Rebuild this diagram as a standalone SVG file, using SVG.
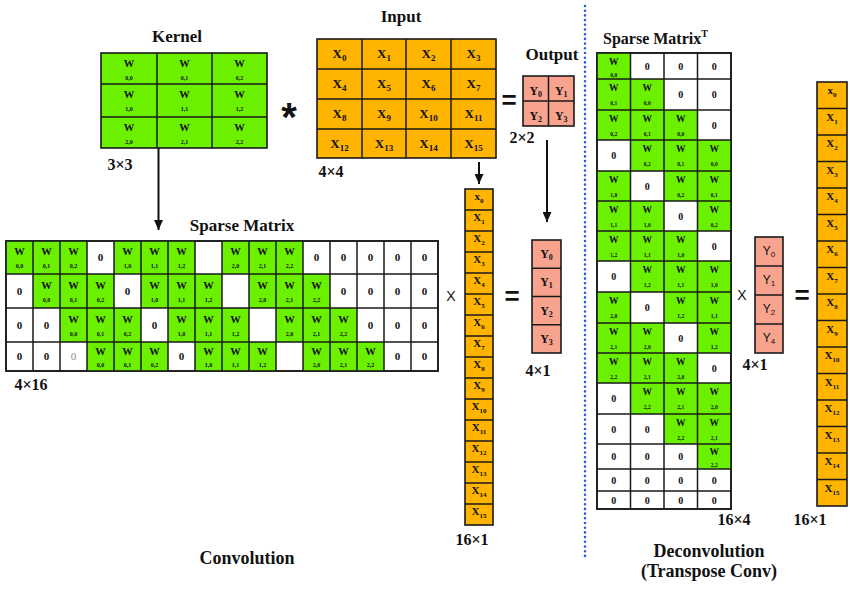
<svg xmlns="http://www.w3.org/2000/svg" width="850" height="592" viewBox="0 0 850 592">
<defs>
<marker id="ah" viewBox="0 0 10 9" refX="10" refY="4.5" markerWidth="10" markerHeight="9" orient="auto" markerUnits="userSpaceOnUse"><path d="M0,0 L10,4.5 L0,9 z" fill="#111"/></marker>
</defs>
<style>
.bg{stroke:#1a1a1a;stroke-width:1.6}
.gr{fill:#6BF000}
.wh{fill:#fff}
.or{fill:#FFB400}
.sa{fill:#F8A38D}
.ln{stroke:#1a1a1a;stroke-width:1.5;fill:none}
.t{font-family:"Liberation Serif","DejaVu Serif",serif;font-weight:bold;fill:#111;text-anchor:middle}
.st-start{text-anchor:start}
.ttl{font-size:17px}
.dim{font-size:16px}
.wk{font-size:10.5px}
.sk{font-size:6px}
.z{font-size:11px}
.wt{font-size:9.5px}
.st{font-size:5.5px}
.zt{font-size:10px}
.xi{font-size:13px}
.xv{font-size:11px}
.yv{font-size:12px}
.cap{font-size:18px}
.lt{font-weight:normal;fill:#888}
.op{font-family:"Liberation Sans","DejaVu Sans",sans-serif;fill:#111;text-anchor:middle}
.ys{font-family:"Liberation Sans","DejaVu Sans",sans-serif;font-size:12px;fill:#111;text-anchor:middle}
</style>
<rect width="850" height="592" fill="#fff"/>

<g id="kernel">
<rect class="gr bg" x="101" y="53" width="166" height="95"/>
<path class="ln" d="M157,53V148M212,53V148M101,84H267M101,117H267"/>
<text class="t wk" x="129" y="67">W</text><text class="t sk" x="129" y="80">0,0</text>
<text class="t wk" x="184.5" y="67">W</text><text class="t sk" x="184.5" y="80">0,1</text>
<text class="t wk" x="239.5" y="67">W</text><text class="t sk" x="239.5" y="80">0,2</text>
<text class="t wk" x="129" y="98">W</text><text class="t sk" x="129" y="111">1,0</text>
<text class="t wk" x="184.5" y="98">W</text><text class="t sk" x="184.5" y="111">1,1</text>
<text class="t wk" x="239.5" y="98">W</text><text class="t sk" x="239.5" y="111">1,2</text>
<text class="t wk" x="129" y="131">W</text><text class="t sk" x="129" y="144">2,0</text>
<text class="t wk" x="184.5" y="131">W</text><text class="t sk" x="184.5" y="144">2,1</text>
<text class="t wk" x="239.5" y="131">W</text><text class="t sk" x="239.5" y="144">2,2</text>
<text class="t ttl" x="177" y="42">Kernel</text>
<text class="t dim" x="120" y="170">3×3</text>
</g>

<g id="input">
<rect class="or bg" x="317" y="39" width="179" height="119"/>
<path class="ln" d="M362,39V158M406,39V158M451,39V158M317,69H496M317,99H496M317,129H496"/>
<text class="t xi" x="339.5" y="58">X<tspan font-size="9" dy="3">0</tspan></text>
<text class="t xi" x="384" y="58">X<tspan font-size="9" dy="3">1</tspan></text>
<text class="t xi" x="428.5" y="58">X<tspan font-size="9" dy="3">2</tspan></text>
<text class="t xi" x="473.5" y="58">X<tspan font-size="9" dy="3">3</tspan></text>
<text class="t xi" x="339.5" y="88">X<tspan font-size="9" dy="3">4</tspan></text>
<text class="t xi" x="384" y="88">X<tspan font-size="9" dy="3">5</tspan></text>
<text class="t xi" x="428.5" y="88">X<tspan font-size="9" dy="3">6</tspan></text>
<text class="t xi" x="473.5" y="88">X<tspan font-size="9" dy="3">7</tspan></text>
<text class="t xi" x="339.5" y="118">X<tspan font-size="9" dy="3">8</tspan></text>
<text class="t xi" x="384" y="118">X<tspan font-size="9" dy="3">9</tspan></text>
<text class="t xi" x="428.5" y="118">X<tspan font-size="9" dy="3">10</tspan></text>
<text class="t xi" x="473.5" y="118">X<tspan font-size="9" dy="3">11</tspan></text>
<text class="t xi" x="339.5" y="148">X<tspan font-size="9" dy="3">12</tspan></text>
<text class="t xi" x="384" y="148">X<tspan font-size="9" dy="3">13</tspan></text>
<text class="t xi" x="428.5" y="148">X<tspan font-size="9" dy="3">14</tspan></text>
<text class="t xi" x="473.5" y="148">X<tspan font-size="9" dy="3">15</tspan></text>
<text class="t ttl" x="401" y="22">Input</text>
<text class="t dim" x="331" y="177">4×4</text>
</g>

<g id="output">
<rect class="sa bg" x="523" y="76" width="51" height="50"/>
<path class="ln" d="M548.5,76V126M523,101H574"/>
<text class="t yv" x="535.75" y="95">Y<tspan font-size="8" dy="2">0</tspan></text>
<text class="t yv" x="561.25" y="95">Y<tspan font-size="8" dy="2">1</tspan></text>
<text class="t yv" x="535.75" y="120">Y<tspan font-size="8" dy="2">2</tspan></text>
<text class="t yv" x="561.25" y="120">Y<tspan font-size="8" dy="2">3</tspan></text>
<text class="t ttl" x="552" y="60">Output</text>
<text class="t dim" x="522" y="143">2×2</text>
</g>

<g id="operators">
<text class="op" x="289" y="131" font-size="40" font-weight="bold">*</text>
<text class="op" x="509" y="109" font-size="26" font-weight="bold">=</text>
<text class="op" x="451" y="301" font-size="14">X</text>
<text class="op" x="512" y="305" font-size="26" font-weight="bold">=</text>
<text class="op" x="742" y="300" font-size="14">X</text>
<text class="op" x="802" y="304" font-size="26" font-weight="bold">=</text>
</g>

<g id="sparse-matrix">
<rect class="wh bg" x="6" y="241" width="432" height="130"/>
<rect class="gr" x="6" y="241" width="81" height="33"/><rect class="gr" x="114" y="241" width="81" height="33"/><rect class="gr" x="222" y="241" width="81" height="33"/>
<rect class="gr" x="33" y="274" width="81" height="34"/><rect class="gr" x="141" y="274" width="81" height="34"/><rect class="gr" x="249" y="274" width="81" height="34"/>
<rect class="gr" x="60" y="308" width="81" height="34"/><rect class="gr" x="168" y="308" width="81" height="34"/><rect class="gr" x="276" y="308" width="81" height="34"/>
<rect class="gr" x="87" y="342" width="81" height="29"/><rect class="gr" x="195" y="342" width="81" height="29"/><rect class="gr" x="303" y="342" width="81" height="29"/>
<path class="ln" d="M33,241V371M60,241V371M87,241V371M114,241V371M141,241V371M168,241V371M195,241V371M222,241V371M249,241V371M276,241V371M303,241V371M330,241V371M357,241V371M384,241V371M411,241V371M6,274H438M6,308H438M6,342H438"/>
<rect class="bg" x="6" y="241" width="432" height="130" fill="none"/>
<!-- row 0 -->
<text class="t wk" x="19.5" y="255">W</text><text class="t sk" x="19.5" y="268">0,0</text>
<text class="t wk" x="46.5" y="255">W</text><text class="t sk" x="46.5" y="268">0,1</text>
<text class="t wk" x="73.5" y="255">W</text><text class="t sk" x="73.5" y="268">0,2</text>
<text class="t z" x="100.5" y="261">0</text>
<text class="t wk" x="127.5" y="255">W</text><text class="t sk" x="127.5" y="268">1,0</text>
<text class="t wk" x="154.5" y="255">W</text><text class="t sk" x="154.5" y="268">1,1</text>
<text class="t wk" x="181.5" y="255">W</text><text class="t sk" x="181.5" y="268">1,2</text>
<text class="t wk" x="235.5" y="255">W</text><text class="t sk" x="235.5" y="268">2,0</text>
<text class="t wk" x="262.5" y="255">W</text><text class="t sk" x="262.5" y="268">2,1</text>
<text class="t wk" x="289.5" y="255">W</text><text class="t sk" x="289.5" y="268">2,2</text>
<text class="t z" x="316.5" y="261">0</text><text class="t z" x="343.5" y="261">0</text><text class="t z" x="370.5" y="261">0</text><text class="t z" x="397.5" y="261">0</text><text class="t z" x="424.5" y="261">0</text>
<!-- row 1 -->
<text class="t z" x="19.5" y="295">0</text>
<text class="t wk" x="46.5" y="289">W</text><text class="t sk" x="46.5" y="302">0,0</text>
<text class="t wk" x="73.5" y="289">W</text><text class="t sk" x="73.5" y="302">0,1</text>
<text class="t wk" x="100.5" y="289">W</text><text class="t sk" x="100.5" y="302">0,2</text>
<text class="t z" x="127.5" y="295">0</text>
<text class="t wk" x="154.5" y="289">W</text><text class="t sk" x="154.5" y="302">1,0</text>
<text class="t wk" x="181.5" y="289">W</text><text class="t sk" x="181.5" y="302">1,1</text>
<text class="t wk" x="208.5" y="289">W</text><text class="t sk" x="208.5" y="302">1,2</text>
<text class="t wk" x="262.5" y="289">W</text><text class="t sk" x="262.5" y="302">2,0</text>
<text class="t wk" x="289.5" y="289">W</text><text class="t sk" x="289.5" y="302">2,1</text>
<text class="t wk" x="316.5" y="289">W</text><text class="t sk" x="316.5" y="302">2,2</text>
<text class="t z" x="343.5" y="295">0</text><text class="t z" x="370.5" y="295">0</text><text class="t z" x="397.5" y="295">0</text><text class="t z" x="424.5" y="295">0</text>
<!-- row 2 -->
<text class="t z" x="19.5" y="329">0</text><text class="t z" x="46.5" y="329">0</text>
<text class="t wk" x="73.5" y="323">W</text><text class="t sk" x="73.5" y="336">0,0</text>
<text class="t wk" x="100.5" y="323">W</text><text class="t sk" x="100.5" y="336">0,1</text>
<text class="t wk" x="127.5" y="323">W</text><text class="t sk" x="127.5" y="336">0,2</text>
<text class="t z" x="154.5" y="329">0</text>
<text class="t wk" x="181.5" y="323">W</text><text class="t sk" x="181.5" y="336">1,0</text>
<text class="t wk" x="208.5" y="323">W</text><text class="t sk" x="208.5" y="336">1,1</text>
<text class="t wk" x="235.5" y="323">W</text><text class="t sk" x="235.5" y="336">1,2</text>
<text class="t wk" x="289.5" y="323">W</text><text class="t sk" x="289.5" y="336">2,0</text>
<text class="t wk" x="316.5" y="323">W</text><text class="t sk" x="316.5" y="336">2,1</text>
<text class="t wk" x="343.5" y="323">W</text><text class="t sk" x="343.5" y="336">2,2</text>
<text class="t z" x="370.5" y="329">0</text><text class="t z" x="397.5" y="329">0</text><text class="t z" x="424.5" y="329">0</text>
<!-- row 3 -->
<text class="t z" x="19.5" y="360">0</text><text class="t z" x="46.5" y="360">0</text><text class="t z lt" x="73.5" y="360">0</text>
<text class="t wk" x="100.5" y="355">W</text><text class="t sk" x="100.5" y="367">0,0</text>
<text class="t wk" x="127.5" y="355">W</text><text class="t sk" x="127.5" y="367">0,1</text>
<text class="t wk" x="154.5" y="355">W</text><text class="t sk" x="154.5" y="367">0,2</text>
<text class="t z" x="181.5" y="360">0</text>
<text class="t wk" x="208.5" y="355">W</text><text class="t sk" x="208.5" y="367">1,0</text>
<text class="t wk" x="235.5" y="355">W</text><text class="t sk" x="235.5" y="367">1,1</text>
<text class="t wk" x="262.5" y="355">W</text><text class="t sk" x="262.5" y="367">1,2</text>
<text class="t wk" x="316.5" y="355">W</text><text class="t sk" x="316.5" y="367">2,0</text>
<text class="t wk" x="343.5" y="355">W</text><text class="t sk" x="343.5" y="367">2,1</text>
<text class="t wk" x="370.5" y="355">W</text><text class="t sk" x="370.5" y="367">2,2</text>
<text class="t z" x="397.5" y="360">0</text><text class="t z" x="424.5" y="360">0</text>
<text class="t ttl" x="242" y="231">Sparse Matrix</text>
<text class="t dim" x="31" y="390">4×16</text>
</g>

<g id="input-vector">
<rect class="or bg" x="465" y="189" width="28" height="336"/>
<path class="ln" d="M465,210H493M465,231H493M465,252H493M465,273H493M465,294H493M465,315H493M465,336H493M465,357H493M465,378H493M465,399H493M465,420H493M465,441H493M465,462H493M465,483H493M465,504H493"/>
<text class="t xv" x="479" y="200">x<tspan font-size="7" dy="3">0</tspan></text>
<text class="t xv" x="479" y="221">X<tspan font-size="7" dy="3">1</tspan></text>
<text class="t xv" x="479" y="242">X<tspan font-size="7" dy="3">2</tspan></text>
<text class="t xv" x="479" y="263">X<tspan font-size="7" dy="3">3</tspan></text>
<text class="t xv" x="479" y="284">X<tspan font-size="7" dy="3">4</tspan></text>
<text class="t xv" x="479" y="305">X<tspan font-size="7" dy="3">5</tspan></text>
<text class="t xv" x="479" y="326">X<tspan font-size="7" dy="3">6</tspan></text>
<text class="t xv" x="479" y="347">X<tspan font-size="7" dy="3">7</tspan></text>
<text class="t xv" x="479" y="368">X<tspan font-size="7" dy="3">8</tspan></text>
<text class="t xv" x="479" y="389">X<tspan font-size="7" dy="3">9</tspan></text>
<text class="t xv" x="479" y="410">X<tspan font-size="7" dy="3">10</tspan></text>
<text class="t xv" x="479" y="431">X<tspan font-size="7" dy="3">11</tspan></text>
<text class="t xv" x="479" y="452">X<tspan font-size="7" dy="3">12</tspan></text>
<text class="t xv" x="479" y="473">X<tspan font-size="7" dy="3">13</tspan></text>
<text class="t xv" x="479" y="494">X<tspan font-size="7" dy="3">14</tspan></text>
<text class="t xv" x="479" y="515">X<tspan font-size="7" dy="3">15</tspan></text>
<text class="t dim" x="472" y="545">16×1</text>
</g>

<g id="output-vector">
<rect class="sa bg" x="532" y="240" width="29" height="113"/>
<path class="ln" d="M532,268.25H561M532,296.5H561M532,324.75H561"/>
<text class="t yv" x="546.5" y="258">Y<tspan font-size="8" dy="2">0</tspan></text>
<text class="t yv" x="546.5" y="286.25">Y<tspan font-size="8" dy="2">1</tspan></text>
<text class="t yv" x="546.5" y="314.5">Y<tspan font-size="8" dy="2">2</tspan></text>
<text class="t yv" x="546.5" y="342.75">Y<tspan font-size="8" dy="2">3</tspan></text>
<text class="t dim" x="538" y="376">4×1</text>
</g>

<g id="sparse-matrix-t">
<rect class="wh bg" x="597" y="53" width="134" height="456"/>
<rect class="gr" x="597" y="53" width="33.5" height="26"/>
<rect class="gr" x="597" y="79" width="67" height="31"/>
<rect class="gr" x="597" y="110" width="100.5" height="30"/>
<rect class="gr" x="630.5" y="140" width="100.5" height="31"/>
<rect class="gr" x="597" y="171" width="33.5" height="30"/><rect class="gr" x="664" y="171" width="67" height="30"/>
<rect class="gr" x="597" y="201" width="67" height="30"/><rect class="gr" x="697.5" y="201" width="33.5" height="30"/>
<rect class="gr" x="597" y="231" width="100.5" height="30"/>
<rect class="gr" x="630.5" y="261" width="100.5" height="31"/>
<rect class="gr" x="597" y="292" width="33.5" height="31"/><rect class="gr" x="664" y="292" width="67" height="31"/>
<rect class="gr" x="597" y="323" width="67" height="30"/><rect class="gr" x="697.5" y="323" width="33.5" height="30"/>
<rect class="gr" x="597" y="353" width="100.5" height="30"/>
<rect class="gr" x="630.5" y="383" width="100.5" height="31"/>
<rect class="gr" x="664" y="414" width="67" height="30"/>
<rect class="gr" x="697.5" y="444" width="33.5" height="25"/>
<path class="ln" d="M630.5,53V509M664,53V509M697.5,53V509M597,79H731M597,110H731M597,140H731M597,171H731M597,201H731M597,231H731M597,261H731M597,292H731M597,323H731M597,353H731M597,383H731M597,414H731M597,444H731M597,469H731M597,491H731"/>
<rect class="bg" x="597" y="53" width="134" height="456" fill="none"/>
<!-- r0 -->
<text class="t wt" x="613.75" y="65">W</text><text class="t st" x="613.75" y="77">0,0</text>
<text class="t zt" x="647.25" y="70">0</text><text class="t zt" x="680.75" y="70">0</text><text class="t zt" x="714.25" y="70">0</text>
<!-- r1 -->
<text class="t wt" x="613.75" y="91">W</text><text class="t st" x="613.75" y="105">0,1</text>
<text class="t wt" x="647.25" y="91">W</text><text class="t st" x="647.25" y="105">0,0</text>
<text class="t zt" x="680.75" y="98">0</text><text class="t zt" x="714.25" y="98">0</text>
<!-- r2 -->
<text class="t wt" x="613.75" y="122">W</text><text class="t st" x="613.75" y="136">0,2</text>
<text class="t wt" x="647.25" y="122">W</text><text class="t st" x="647.25" y="136">0,1</text>
<text class="t wt" x="680.75" y="122">W</text><text class="t st" x="680.75" y="136">0,0</text>
<text class="t zt" x="714.25" y="129">0</text>
<!-- r3 -->
<text class="t zt" x="613.75" y="159">0</text>
<text class="t wt" x="647.25" y="152">W</text><text class="t st" x="647.25" y="166">0,2</text>
<text class="t wt" x="680.75" y="152">W</text><text class="t st" x="680.75" y="166">0,1</text>
<text class="t wt" x="714.25" y="152">W</text><text class="t st" x="714.25" y="166">0,0</text>
<!-- r4 -->
<text class="t wt" x="613.75" y="183">W</text><text class="t st" x="613.75" y="197">1,0</text>
<text class="t zt" x="647.25" y="190">0</text>
<text class="t wt" x="680.75" y="183">W</text><text class="t st" x="680.75" y="197">0,2</text>
<text class="t wt" x="714.25" y="183">W</text><text class="t st" x="714.25" y="197">0,1</text>
<!-- r5 -->
<text class="t wt" x="613.75" y="213">W</text><text class="t st" x="613.75" y="227">1,1</text>
<text class="t wt" x="647.25" y="213">W</text><text class="t st" x="647.25" y="227">1,0</text>
<text class="t zt" x="680.75" y="220">0</text>
<text class="t wt" x="714.25" y="213">W</text><text class="t st" x="714.25" y="227">0,2</text>
<!-- r6 -->
<text class="t wt" x="613.75" y="243">W</text><text class="t st" x="613.75" y="257">1,2</text>
<text class="t wt" x="647.25" y="243">W</text><text class="t st" x="647.25" y="257">1,1</text>
<text class="t wt" x="680.75" y="243">W</text><text class="t st" x="680.75" y="257">1,0</text>
<text class="t zt" x="714.25" y="250">0</text>
<!-- r7 -->
<text class="t zt" x="613.75" y="280">0</text>
<text class="t wt" x="647.25" y="273">W</text><text class="t st" x="647.25" y="287">1,2</text>
<text class="t wt" x="680.75" y="273">W</text><text class="t st" x="680.75" y="287">1,1</text>
<text class="t wt" x="714.25" y="273">W</text><text class="t st" x="714.25" y="287">1,0</text>
<!-- r8 -->
<text class="t wt" x="613.75" y="304">W</text><text class="t st" x="613.75" y="318">2,0</text>
<text class="t zt" x="647.25" y="311">0</text>
<text class="t wt" x="680.75" y="304">W</text><text class="t st" x="680.75" y="318">1,2</text>
<text class="t wt" x="714.25" y="304">W</text><text class="t st" x="714.25" y="318">1,1</text>
<!-- r9 -->
<text class="t wt" x="613.75" y="335">W</text><text class="t st" x="613.75" y="349">2,1</text>
<text class="t wt" x="647.25" y="335">W</text><text class="t st" x="647.25" y="349">2,0</text>
<text class="t zt" x="680.75" y="342">0</text>
<text class="t wt" x="714.25" y="335">W</text><text class="t st" x="714.25" y="349">1,2</text>
<!-- r10 -->
<text class="t wt" x="613.75" y="365">W</text><text class="t st" x="613.75" y="379">2,2</text>
<text class="t wt" x="647.25" y="365">W</text><text class="t st" x="647.25" y="379">2,1</text>
<text class="t wt" x="680.75" y="365">W</text><text class="t st" x="680.75" y="379">2,0</text>
<text class="t zt" x="714.25" y="372">0</text>
<!-- r11 -->
<text class="t zt" x="613.75" y="402">0</text>
<text class="t wt" x="647.25" y="395">W</text><text class="t st" x="647.25" y="409">2,2</text>
<text class="t wt" x="680.75" y="395">W</text><text class="t st" x="680.75" y="409">2,1</text>
<text class="t wt" x="714.25" y="395">W</text><text class="t st" x="714.25" y="409">2,0</text>
<!-- r12 -->
<text class="t zt" x="613.75" y="433">0</text><text class="t zt" x="647.25" y="433">0</text>
<text class="t wt" x="680.75" y="426">W</text><text class="t st" x="680.75" y="440">2,2</text>
<text class="t wt" x="714.25" y="426">W</text><text class="t st" x="714.25" y="440">2,1</text>
<!-- r13 -->
<text class="t zt" x="613.75" y="460">0</text><text class="t zt" x="647.25" y="460">0</text><text class="t zt" x="680.75" y="460">0</text>
<text class="t wt" x="714.25" y="455">W</text><text class="t st" x="714.25" y="467">2,2</text>
<!-- r14 -->
<text class="t zt" x="613.75" y="484">0</text><text class="t zt" x="647.25" y="484">0</text><text class="t zt" x="680.75" y="484">0</text><text class="t zt" x="714.25" y="484">0</text>
<!-- r15 -->
<text class="t zt" x="613.75" y="504">0</text><text class="t zt" x="647.25" y="504">0</text><text class="t zt" x="680.75" y="504">0</text><text class="t zt" x="714.25" y="504">0</text>
<text class="t st-start" x="603" y="44" font-size="16">Sparse Matrix<tspan font-size="10" dy="-7">T</tspan></text>
<text class="t dim" x="734" y="525">16×4</text>
</g>

<g id="y-vector">
<rect class="sa bg" x="755" y="237" width="28" height="116"/>
<path class="ln" d="M755,266H783M755,295H783M755,324H783"/>
<text class="ys" x="769" y="255">Y<tspan font-size="8" dy="2">0</tspan></text>
<text class="ys" x="769" y="284">Y<tspan font-size="8" dy="2">1</tspan></text>
<text class="ys" x="769" y="313">Y<tspan font-size="8" dy="2">2</tspan></text>
<text class="ys" x="769" y="342">Y<tspan font-size="8" dy="2">4</tspan></text>
<text class="t dim" x="755" y="370">4×1</text>
</g>

<g id="x-vector">
<rect class="or bg" x="817" y="82" width="30" height="424"/>
<path class="ln" d="M817,108.5H847M817,135H847M817,161.5H847M817,188H847M817,214.5H847M817,241H847M817,267.5H847M817,294H847M817,320.5H847M817,347H847M817,373.5H847M817,400H847M817,426.5H847M817,453H847M817,479.5H847"/>
<text class="t xv" x="832" y="94">x<tspan font-size="7" dy="3">0</tspan></text>
<text class="t xv" x="832" y="120.5">X<tspan font-size="7" dy="3">1</tspan></text>
<text class="t xv" x="832" y="147">X<tspan font-size="7" dy="3">2</tspan></text>
<text class="t xv" x="832" y="173.5">X<tspan font-size="7" dy="3">3</tspan></text>
<text class="t xv" x="832" y="200">X<tspan font-size="7" dy="3">4</tspan></text>
<text class="t xv" x="832" y="226.5">X<tspan font-size="7" dy="3">5</tspan></text>
<text class="t xv" x="832" y="253">X<tspan font-size="7" dy="3">6</tspan></text>
<text class="t xv" x="832" y="279.5">X<tspan font-size="7" dy="3">7</tspan></text>
<text class="t xv" x="832" y="306">X<tspan font-size="7" dy="3">8</tspan></text>
<text class="t xv" x="832" y="332.5">X<tspan font-size="7" dy="3">9</tspan></text>
<text class="t xv" x="832" y="359">X<tspan font-size="7" dy="3">10</tspan></text>
<text class="t xv" x="832" y="385.5">X<tspan font-size="7" dy="3">11</tspan></text>
<text class="t xv" x="832" y="412">X<tspan font-size="7" dy="3">12</tspan></text>
<text class="t xv" x="832" y="438.5">X<tspan font-size="7" dy="3">13</tspan></text>
<text class="t xv" x="832" y="465">X<tspan font-size="7" dy="3">14</tspan></text>
<text class="t xv" x="832" y="491.5">X<tspan font-size="7" dy="3">15</tspan></text>
<text class="t dim" x="810" y="525">16×1</text>
</g>

<g id="connectors">
<line x1="158.5" y1="148" x2="158.5" y2="230" stroke="#111" stroke-width="2" marker-end="url(#ah)"/>
<line x1="479" y1="162" x2="479" y2="184" stroke="#111" stroke-width="2" marker-end="url(#ah)"/>
<line x1="547" y1="140" x2="547" y2="222" stroke="#111" stroke-width="2" marker-end="url(#ah)"/>
<line x1="585" y1="6" x2="585" y2="557" stroke="#1F5FE6" stroke-width="2.6" stroke-linecap="round" stroke-dasharray="0 4.7"/>
</g>

<g id="captions">
<text class="t cap" x="247" y="564">Convolution</text>
<text class="t cap" x="709" y="557">Deconvolution</text>
<text class="t cap" x="709" y="577">(Transpose Conv)</text>
</g>
</svg>
